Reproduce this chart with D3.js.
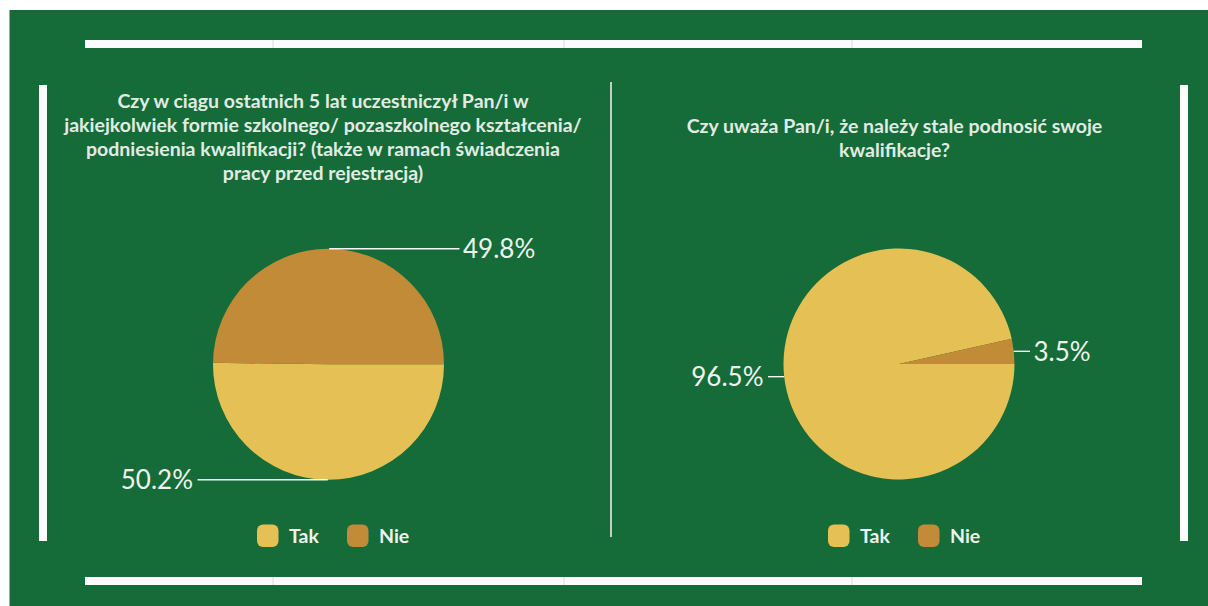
<!DOCTYPE html>
<html>
<head>
<meta charset="utf-8">
<script src="https://cdn.jsdelivr.net/npm/d3@7"></script>
<style>
  html, body { margin: 0; padding: 0; background: #ffffff; }
  svg { display: block; }
</style>
</head>
<body>
<svg id="chart" width="1208" height="606"></svg>
<script>
// ---- data ----
const categories = ["Tak", "Nie"];
const q1Values = [50.2, 49.8];
const q2Values = [96.5, 3.5];
const q1TitleLines = [
  "Czy w ciągu ostatnich 5 lat uczestniczył Pan/i w",
  "jakiejkolwiek formie szkolnego/ pozaszkolnego kształcenia/",
  "podniesienia kwalifikacji? (także w ramach świadczenia",
  "pracy przed rejestracją)"
];
const q2TitleLines = [
  "Czy uważa Pan/i, że należy stale podnosić swoje",
  "kwalifikacje?"
];

// ---- styling ----
const W = 1208, H = 606;
const svg = d3.select("#chart");
const color = d3.scaleOrdinal().domain(categories).range(["#e5c155", "#c28b37"]);
const green = "#156c38";
const lineWhite = "#fbfcfb";
const textColor = "#eef3ee";
const titleColor = "#e2ebe3";

// background
svg.append("rect").attr("x", 0).attr("y", 0).attr("width", W).attr("height", H).attr("fill", "#ffffff");
svg.append("rect").attr("x", 9.5).attr("y", 10).attr("width", W - 9.5).attr("height", H - 10).attr("fill", green);

// frame bars
svg.append("rect").attr("x", 85).attr("y", 40).attr("width", 1057).attr("height", 8).attr("fill", lineWhite);
svg.append("rect").attr("x", 85).attr("y", 577).attr("width", 1057).attr("height", 8).attr("fill", lineWhite);
svg.append("rect").attr("x", 39).attr("y", 85).attr("width", 8).attr("height", 456).attr("fill", lineWhite);
svg.append("rect").attr("x", 1180).attr("y", 85).attr("width", 8).attr("height", 456).attr("fill", lineWhite);
// faint seams in bars
[273, 564, 852].forEach(x => {
  svg.append("line").attr("x1", x).attr("x2", x).attr("y1", 40).attr("y2", 48).attr("stroke", "#d8dcd8").attr("stroke-width", 1);
  svg.append("line").attr("x1", x).attr("x2", x).attr("y1", 577).attr("y2", 585).attr("stroke", "#d8dcd8").attr("stroke-width", 1);
});
// middle divider
svg.append("line").attr("x1", 611).attr("x2", 611).attr("y1", 82).attr("y2", 537)
  .attr("stroke", "#e6ece6").attr("stroke-width", 1.6);

const pie = d3.pie().sort(null).value(d => d.v)
  .startAngle(Math.PI / 2).endAngle(Math.PI / 2 + 2 * Math.PI);
const R = 115.5;
const arc = d3.arc().innerRadius(0).outerRadius(R);

function drawPanel(cfg) {
  const g = svg.append("g");
  // title
  const t = g.append("text")
    .attr("text-anchor", "middle")
    .attr("font-family", "Lato, 'Open Sans', sans-serif")
    .attr("font-weight", 700)
    .attr("font-size", 19.5)
    .attr("fill", titleColor);
  cfg.title.forEach((line, i) => {
    t.append("tspan").attr("x", cfg.titleX).attr("y", cfg.titleY + i * 24).text(line);
  });

  const data = categories.map((c, i) => ({ c, v: cfg.values[i] }));
  const arcs = pie(data);
  const pg = g.append("g").attr("transform", `translate(${cfg.cx},${cfg.cy})`);
  pg.selectAll("path").data(arcs).join("path")
    .attr("d", arc)
    .attr("fill", d => color(d.data.c));

  // labels
  arcs.forEach(d => {
    const a = (d.startAngle + d.endAngle) / 2;
    const ax = cfg.cx + R * Math.sin(a);
    const ay = cfg.cy - R * Math.cos(a);
    const right = Math.sin(a) >= 0;
    const lx = cfg.cx + (right ? 131 : -131);
    const tx = cfg.cx + (right ? 134.5 : -135.5);
    g.append("line").attr("x1", ax).attr("y1", ay).attr("x2", lx).attr("y2", ay)
      .attr("stroke", "#f4f7f4").attr("stroke-width", 1.4);
    g.append("text")
      .attr("x", tx).attr("y", ay).attr("dy", "0.37em")
      .attr("text-anchor", right ? "start" : "end")
      .attr("font-family", "Lato, 'Open Sans', sans-serif")
      .attr("font-size", 26)
      .attr("fill", textColor)
      .text(d3.format(".1f")(d.data.v) + "%");
  });

  // legend
  const lg = g.append("g").attr("transform", `translate(${cfg.legendX},0)`);
  const offsets = [0, 90];
  categories.forEach((c, i) => {
    lg.append("rect").attr("x", offsets[i]).attr("y", 524.5).attr("width", 21.5).attr("height", 22.5)
      .attr("rx", 6).attr("fill", color(c));
    lg.append("text").attr("x", offsets[i] + 32).attr("y", 543)
      .attr("font-family", "Lato, 'Open Sans', sans-serif")
      .attr("font-weight", 700)
      .attr("font-size", 19.5)
      .attr("fill", textColor)
      .text(c);
  });
}

drawPanel({ title: q1TitleLines, titleX: 323, titleY: 107.5, values: q1Values, cx: 328.5, cy: 364.3, legendX: 257 });
drawPanel({ title: q2TitleLines, titleX: 894.5, titleY: 133, values: q2Values, cx: 899, cy: 364, legendX: 828 });
</script>
</body>
</html>
